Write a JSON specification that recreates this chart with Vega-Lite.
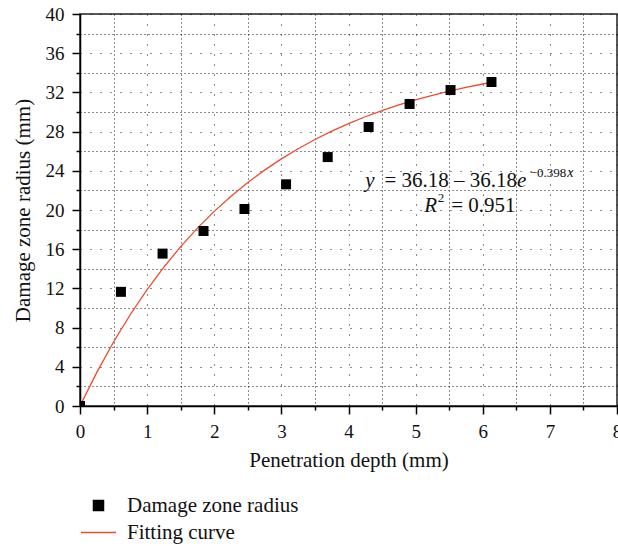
{
  "$schema": "https://vega.github.io/schema/vega-lite/v6.json",
  "width": 537,
  "height": 392,
  "autosize": {"type": "none"},
  "padding": {"left": 80, "top": 14, "right": 1, "bottom": 140},
  "background": "white",
  "config": {
    "font": "Liberation Serif",
    "view": {"stroke": "#222", "strokeWidth": 1.5},
    "axis": {
      "domainColor": "#000", "domainWidth": 1.5,
      "tickColor": "#000", "tickWidth": 1.5,
      "labelFont": "Liberation Serif", "labelFontSize": 19, "labelColor": "#111", "labelFlush": false,
      "titleFont": "Liberation Serif", "titleFontSize": 21, "titleFontWeight": "normal", "titleColor": "#111",
      "gridColor": "#000", "gridWidth": 1, "gridOpacity": 0.9
    },
    "legend": {"labelFont": "Liberation Serif", "labelFontSize": 21, "labelColor": "#111", "labelLimit": 0}
  },
  "datasets": {
    "points": [
      {"x": 0, "y": 0, "series": "Damage zone radius"},
      {"x": 0.61, "y": 11.65, "series": "Damage zone radius"},
      {"x": 1.23, "y": 15.55, "series": "Damage zone radius"},
      {"x": 1.84, "y": 17.86, "series": "Damage zone radius"},
      {"x": 2.45, "y": 20.1, "series": "Damage zone radius"},
      {"x": 3.07, "y": 22.62, "series": "Damage zone radius"},
      {"x": 3.69, "y": 25.4, "series": "Damage zone radius"},
      {"x": 4.3, "y": 28.47, "series": "Damage zone radius"},
      {"x": 4.91, "y": 30.82, "series": "Damage zone radius"},
      {"x": 5.52, "y": 32.24, "series": "Damage zone radius"},
      {"x": 6.13, "y": 33.06, "series": "Damage zone radius"}
    ],
    "curve": [
      {"x": 0, "y": 0, "series": "Fitting curve"},
      {"x": 0.25, "y": 3.427, "series": "Fitting curve"},
      {"x": 0.5, "y": 6.529, "series": "Fitting curve"},
      {"x": 0.75, "y": 9.337, "series": "Fitting curve"},
      {"x": 1, "y": 11.879, "series": "Fitting curve"},
      {"x": 1.25, "y": 14.18, "series": "Fitting curve"},
      {"x": 1.5, "y": 16.264, "series": "Fitting curve"},
      {"x": 1.75, "y": 18.15, "series": "Fitting curve"},
      {"x": 2, "y": 19.858, "series": "Fitting curve"},
      {"x": 2.25, "y": 21.404, "series": "Fitting curve"},
      {"x": 2.5, "y": 22.804, "series": "Fitting curve"},
      {"x": 2.75, "y": 24.07, "series": "Fitting curve"},
      {"x": 3, "y": 25.218, "series": "Fitting curve"},
      {"x": 3.25, "y": 26.255, "series": "Fitting curve"},
      {"x": 3.5, "y": 27.195, "series": "Fitting curve"},
      {"x": 3.75, "y": 28.046, "series": "Fitting curve"},
      {"x": 4, "y": 28.817, "series": "Fitting curve"},
      {"x": 4.25, "y": 29.514, "series": "Fitting curve"},
      {"x": 4.5, "y": 30.145, "series": "Fitting curve"},
      {"x": 4.75, "y": 30.717, "series": "Fitting curve"},
      {"x": 5, "y": 31.234, "series": "Fitting curve"},
      {"x": 5.25, "y": 31.703, "series": "Fitting curve"},
      {"x": 5.5, "y": 32.126, "series": "Fitting curve"},
      {"x": 5.75, "y": 32.511, "series": "Fitting curve"},
      {"x": 6, "y": 32.858, "series": "Fitting curve"},
      {"x": 6.13, "y": 33.025, "series": "Fitting curve"}
    ],
    "one": [{}]
  },
  "layer": [
    {
      "data": {"name": "curve"},
      "mark": {"type": "line", "strokeWidth": 1.3, "clip": true},
      "encoding": {
        "x": {"field": "x", "type": "quantitative", "scale": {"domain": [0, 8], "nice": false},
          "axis": {"orient": "bottom", "values": [0.5, 1.5, 2.5, 3.5, 4.5, 5.5, 6.5, 7.5], "labels": false, "tickSize": 4, "domain": false, "grid": true, "gridDash": [1, 3], "title": null}},
        "y": {"field": "y", "type": "quantitative", "scale": {"domain": [0, 40], "nice": false},
          "axis": {"orient": "left", "values": [2, 6, 10, 14, 18, 22, 26, 30, 34, 38], "labels": false, "tickSize": 4, "domain": false, "grid": true, "gridDash": [1, 3], "title": null}},
        "color": {"field": "series", "type": "nominal",
          "scale": {"domain": ["Damage zone radius", "Fitting curve"], "range": ["#000000", "#ee4b2b"]},
          "legend": {
            "orient": "none", "legendX": 8, "legendY": 481, "title": null, "direction": "vertical",
            "padding": 0, "symbolSize": 100, "labelOffset": 18, "rowPadding": 5, "labelLimit": 0,
            "encode": {"symbols": {"update": {
              "shape": {"signal": "datum.value === 'Fitting curve' ? 'stroke' : 'square'"},
              "size": {"signal": "datum.value === 'Fitting curve' ? 1225 : 100"},
              "stroke": {"signal": "datum.value === 'Fitting curve' ? '#ee4b2b' : 'transparent'"},
              "strokeWidth": {"value": 1.5},
              "fill": {"signal": "datum.value === 'Fitting curve' ? 'transparent' : '#000000'"},
              "opacity": {"value": 1}
            }}}
          }}
      }
    },
    {
      "data": {"name": "points"},
      "mark": {"type": "point", "shape": "square", "filled": true, "size": 100, "opacity": 1, "clip": true},
      "encoding": {
        "x": {"field": "x", "type": "quantitative", "scale": {"domain": [0, 8], "nice": false},
          "axis": {"orient": "bottom", "values": [0, 1, 2, 3, 4, 5, 6, 7, 8], "tickSize": 8, "labelPadding": 8, "labelFlush": false, "grid": true, "gridDash": [1, 9], "title": "Penetration depth (mm)", "titlePadding": 8}},
        "y": {"field": "y", "type": "quantitative", "scale": {"domain": [0, 40], "nice": false},
          "axis": {"orient": "left", "values": [0, 4, 8, 12, 16, 20, 24, 28, 32, 36, 40], "tickSize": 8, "labelPadding": 8, "labelFlush": false, "grid": true, "gridDash": [1, 9], "title": "Damage zone radius (mm)", "titlePadding": 12}},
        "color": {"field": "series", "type": "nominal",
          "scale": {"domain": ["Damage zone radius", "Fitting curve"], "range": ["#000000", "#ee4b2b"]},
          "legend": {
            "orient": "none", "legendX": 8, "legendY": 481, "title": null, "direction": "vertical",
            "padding": 0, "symbolSize": 100, "labelOffset": 18, "rowPadding": 5, "labelLimit": 0,
            "encode": {"symbols": {"update": {
              "shape": {"signal": "datum.value === 'Fitting curve' ? 'stroke' : 'square'"},
              "size": {"signal": "datum.value === 'Fitting curve' ? 1225 : 100"},
              "stroke": {"signal": "datum.value === 'Fitting curve' ? '#ee4b2b' : 'transparent'"},
              "strokeWidth": {"value": 1.5},
              "fill": {"signal": "datum.value === 'Fitting curve' ? 'transparent' : '#000000'"},
              "opacity": {"value": 1}
            }}}
          }}
      }
    },
    {
      "data": {"name": "one"},
      "mark": {"type": "text", "text": "y", "font": "Liberation Serif", "fontStyle": "italic", "fontSize": 21, "align": "right", "baseline": "alphabetic", "color": "#111"},
      "encoding": {"x": {"datum": 4.39, "type": "quantitative", "axis": null}, "y": {"datum": 22.38, "type": "quantitative", "axis": null}}
    },
    {
      "data": {"name": "one"},
      "mark": {"type": "text", "text": "= 36.18 – 36.18", "font": "Liberation Serif", "fontSize": 21, "align": "right", "baseline": "alphabetic", "color": "#111"},
      "encoding": {"x": {"datum": 6.51, "type": "quantitative", "axis": null}, "y": {"datum": 22.38, "type": "quantitative", "axis": null}}
    },
    {
      "data": {"name": "one"},
      "mark": {"type": "text", "text": "e", "font": "Liberation Serif", "fontStyle": "italic", "fontSize": 21, "align": "left", "baseline": "alphabetic", "color": "#111"},
      "encoding": {"x": {"datum": 6.51, "type": "quantitative", "axis": null}, "y": {"datum": 22.38, "type": "quantitative", "axis": null}}
    },
    {
      "data": {"name": "one"},
      "mark": {"type": "text", "text": "−0.398", "font": "Liberation Serif", "fontSize": 13, "align": "left", "baseline": "alphabetic", "color": "#111"},
      "encoding": {"x": {"datum": 6.7, "type": "quantitative", "axis": null}, "y": {"datum": 23.37, "type": "quantitative", "axis": null}}
    },
    {
      "data": {"name": "one"},
      "mark": {"type": "text", "text": "x", "font": "Liberation Serif", "fontStyle": "italic", "fontSize": 14, "align": "left", "baseline": "alphabetic", "color": "#111"},
      "encoding": {"x": {"datum": 7.26, "type": "quantitative", "axis": null}, "y": {"datum": 23.37, "type": "quantitative", "axis": null}}
    },
    {
      "data": {"name": "one"},
      "mark": {"type": "text", "text": "R", "font": "Liberation Serif", "fontStyle": "italic", "fontSize": 21, "align": "right", "baseline": "alphabetic", "color": "#111"},
      "encoding": {"x": {"datum": 5.32, "type": "quantitative", "axis": null}, "y": {"datum": 19.83, "type": "quantitative", "axis": null}}
    },
    {
      "data": {"name": "one"},
      "mark": {"type": "text", "text": "2", "font": "Liberation Serif", "fontSize": 13, "align": "left", "baseline": "alphabetic", "color": "#111"},
      "encoding": {"x": {"datum": 5.33, "type": "quantitative", "axis": null}, "y": {"datum": 20.8, "type": "quantitative", "axis": null}}
    },
    {
      "data": {"name": "one"},
      "mark": {"type": "text", "text": "= 0.951", "font": "Liberation Serif", "fontSize": 21, "align": "left", "baseline": "alphabetic", "color": "#111"},
      "encoding": {"x": {"datum": 5.53, "type": "quantitative", "axis": null}, "y": {"datum": 19.83, "type": "quantitative", "axis": null}}
    }
  ],
  "resolve": {"axis": {"x": "independent", "y": "independent"}}
}
